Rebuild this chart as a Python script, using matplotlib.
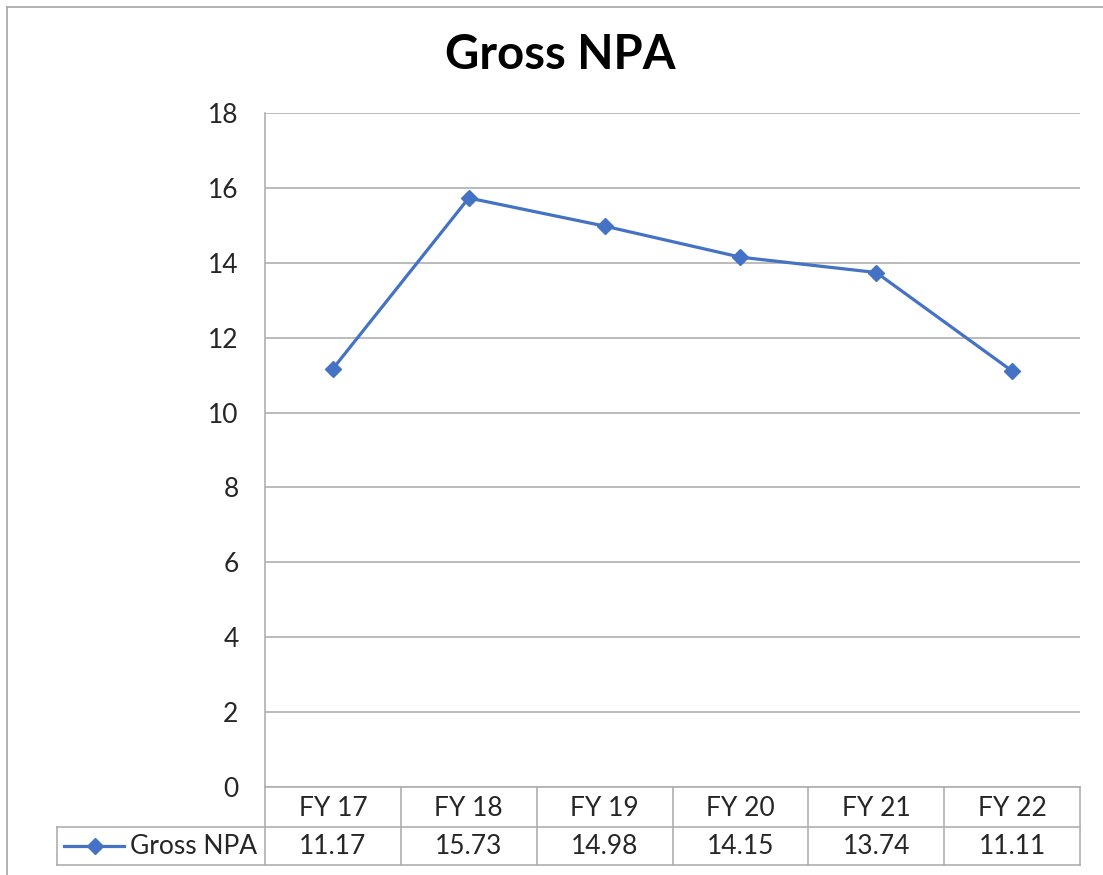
import matplotlib
matplotlib.use("Agg")
import matplotlib.pyplot as plt
from matplotlib.lines import Line2D

categories = ["FY 17", "FY 18", "FY 19", "FY 20", "FY 21", "FY 22"]
gross_npa = [11.17, 15.73, 14.98, 14.15, 13.74, 11.11]
yticks = [0, 2, 4, 6, 8, 10, 12, 14, 16, 18]
series_name = "Gross NPA"
title = "Gross NPA"

plt.rcParams['font.family'] = ['Lato', 'DejaVu Sans']

W, H = 1103, 875
fig = plt.figure(figsize=(W / 100, H / 100), dpi=100)
fig.patch.set_facecolor("white")

# plot area in pixels
L, R, T, B = 265, 1080, 113, 787
ax = fig.add_axes([L / W, (H - B) / H, (R - L) / W, (B - T) / H])

line_color = "#4472C4"
grid_color = "#AFAFAF"
text_color = "#262626"
fs = 19

n = len(categories)
xs = [i + 0.5 for i in range(n)]
ax.plot(xs, gross_npa, color=line_color, lw=2.3, marker="D", ms=8.5,
        mfc=line_color, mec=line_color, zorder=3, clip_on=False)

ax.set_xlim(0, n)
ax.set_ylim(0, 18)
ax.set_yticks(yticks)
ax.set_yticklabels([str(v) for v in yticks], fontsize=fs, color=text_color)
ax.set_xticks([])
ax.tick_params(axis="y", length=0, pad=19)
ax.yaxis.grid(True, color=grid_color, lw=1.2)
ax.set_axisbelow(True)
for s in ["top", "right", "bottom"]:
    ax.spines[s].set_visible(False)
ax.spines["left"].set_color(grid_color)
ax.spines["left"].set_linewidth(1.2)


def fx(px):
    return px / W


def fy(py):
    return (H - py) / H


# data table
row1_top, row1_bot, row2_bot = 787, 827, 865
leg_left = 57
col_w = (R - L) / n
lw_tab = 1.2


def fline(x0, y0, x1, y1, color=grid_color, lw=lw_tab):
    fig.add_artist(Line2D([fx(x0), fx(x1)], [fy(y0), fy(y1)], color=color, lw=lw,
                          transform=fig.transFigure))


fline(L, row1_top, R, row1_top)
fline(leg_left, row1_bot, R, row1_bot)
fline(leg_left, row2_bot, R, row2_bot)
fline(leg_left, row1_bot, leg_left, row2_bot)
for i in range(n + 1):
    x = L + i * col_w
    fline(x, row1_top, x, row2_bot)

for i, (cat, val) in enumerate(zip(categories, gross_npa)):
    cx = L + (i + 0.5) * col_w
    fig.text(fx(cx), fy((row1_top + row1_bot) / 2 + 1), cat, ha="center", va="center",
             fontsize=fs, color=text_color)
    fig.text(fx(cx), fy((row1_bot + row2_bot) / 2 + 1), f"{val:.2f}", ha="center", va="center",
             fontsize=fs, color=text_color)

# legend key in table
ymid = (row1_bot + row2_bot) / 2
fig.add_artist(Line2D([fx(64), fx(124)], [fy(ymid), fy(ymid)], color=line_color, lw=2.3,
                      transform=fig.transFigure))
fig.add_artist(Line2D([fx(95)], [fy(ymid)], color=line_color, marker="D", ms=8.5,
                      mfc=line_color, mec=line_color, lw=0, transform=fig.transFigure))
fig.text(fx(130), fy(ymid + 1), series_name, ha="left", va="center", fontsize=fs, color=text_color)

# title
fig.text(fx(560), fy(55), title, ha="center", va="center", fontsize=34, fontweight="bold",
         color="black")

# outer chart border (cropped at right and bottom)
fline(7, 7, W, 7, color="#A6A6A6", lw=1.2)
fline(7, 7, 7, H, color="#A6A6A6", lw=1.2)

fig.savefig("out.png", dpi=100, facecolor="white")
